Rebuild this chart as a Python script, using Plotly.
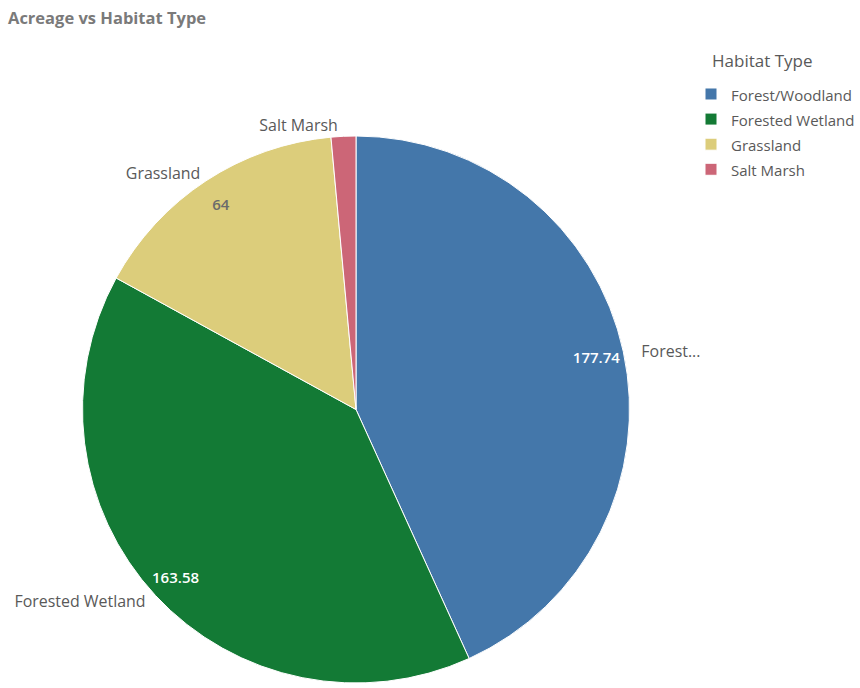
import plotly.graph_objects as go

habitats = ["Forest/Woodland", "Forested Wetland", "Grassland", "Salt Marsh"]
acreage = [177.74, 163.58, 64, 6]
outside_labels = ["&nbsp;&nbsp;&nbsp;Forest...", "Forested Wetland&nbsp;", "Grassland", "Salt Marsh"]
inside_values = ["177.74", "163.58", "64", ""]
colors = ["#4477aa", "#137a35", "#dccd7b", "#cc6677"]
inside_font_colors = ["#ffffff", "#ffffff", "#6b6b6b", "#ffffff"]
legend_title = "Habitat Type"
chart_title = "Acreage vs Habitat Type"

W, H = 860, 688
cx, cy, r = 356, 412.5, 275.5
dom_x = [(cx - r) / W, (cx + r) / W]
dom_y = [max(0.0, 1 - (cy + r) / H), 1 - (cy - r) / H]

legend_labels = ['<span style="font-size:15px">%s</span>' % h for h in habitats]

fig = go.Figure()
fig.add_trace(go.Pie(
    labels=legend_labels, values=acreage, sort=False, direction="clockwise", rotation=0,
    marker=dict(colors=colors, line=dict(color="#ffffff", width=1)),
    text=outside_labels, textinfo="text", textposition="outside",
    outsidetextfont=dict(family="Open Sans", size=16, color="#595959"),
    domain=dict(x=dom_x, y=dom_y), hovertext=habitats, hoverinfo="text+value",
))
# transparent ring overlay carrying the value labels near the outer edge
fig.add_trace(go.Pie(
    labels=legend_labels, values=acreage, sort=False, direction="clockwise", rotation=0,
    hole=0.8,
    marker=dict(colors=["rgba(0,0,0,0)"] * len(habitats), line=dict(width=0)),
    text=inside_values, textinfo="text", textposition="inside",
    insidetextorientation="horizontal",
    insidetextfont=dict(family="Open Sans", size=15, weight=600, color=inside_font_colors),
    domain=dict(x=dom_x, y=dom_y), showlegend=False,
    hovertext=habitats, hoverinfo="text+value",
))
fig.update_layout(
    width=W, height=H, margin=dict(l=0, r=0, t=0, b=0),
    paper_bgcolor="#ffffff", plot_bgcolor="#ffffff",
    font=dict(family="Open Sans", color="#595959"),
    title=dict(text="<b>%s</b>" % chart_title, x=8 / W, xanchor="left",
               y=1 - 18 / H, yanchor="middle",
               font=dict(family="Open Sans", size=16.5, color="#7a7a7a")),
    legend=dict(x=1, xanchor="right", y=1 - 77 / H, yanchor="top",
                font=dict(size=17, color="#595959"), itemwidth=30),
    annotations=[dict(text=legend_title, xref="paper", yref="paper",
                      x=710 / W, xanchor="left", y=1 - 61 / H, yanchor="middle",
                      showarrow=False, font=dict(family="Open Sans", size=17, color="#595959"))],
    uniformtext=dict(minsize=15, mode="show"),
)
fig.write_html("out.html", config={"displayModeBar": False},
               post_script="document.body.style.margin='0';")
